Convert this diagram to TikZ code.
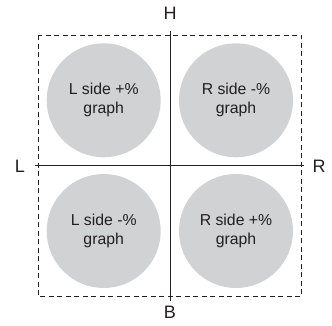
\documentclass[tikz,border=0pt]{standalone}
\usepackage{fontspec}
\setmainfont{Liberation Sans}
\definecolor{discgray}{RGB}{209,210,212}
\definecolor{inkc}{RGB}{35,31,32}
\begin{document}
\begin{tikzpicture}[x=1pt,y=-1pt,
  disc/.style={circle,fill=discgray,minimum size=114pt,inner sep=0pt,align=center,
    font=\fontsize{15.8}{18.8}\selectfont,text=inkc},
  axislabel/.style={font=\fontsize{18}{20}\selectfont,text=inkc,inner sep=0pt},
  axisline/.style={draw=inkc,line width=1pt},
  frame/.style={draw=inkc,line width=0.8pt,dash pattern=on 5pt off 3.5pt}]
\useasboundingbox (0,0) rectangle (332,325);
\draw[frame] (38.3,35) rectangle (301.3,296.7);
\node[disc] (tl) at (103.7,100.3) {L side +\%\\graph};
\node[disc] (tr) at (236,100.3) {R side -\%\\graph};
\node[disc] (bl) at (103.7,231) {L side -\%\\graph};
\node[disc] (br) at (236,231) {R side +\%\\graph};
\coordinate (top) at (170,30.7);
\coordinate (bot) at (170,300.5);
\coordinate (lft) at (34.7,165.7);
\coordinate (rgt) at (304.3,165.7);
\draw[axisline] (top) -- (bot);
\draw[axisline] (lft) -- (rgt);
\node[axislabel] (H) at (170,13.5) {H};
\node[axislabel] (B) at (170,312.5) {B};
\node[axislabel] (L) at (20,166.5) {L};
\node[axislabel] (R) at (319,166.5) {R};
\end{tikzpicture}
\end{document}
